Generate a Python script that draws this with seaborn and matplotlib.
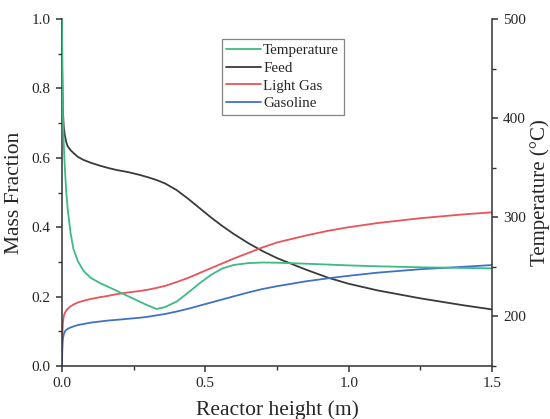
import numpy as np
import pandas as pd
import seaborn as sns
import matplotlib.pyplot as plt
from matplotlib.ticker import MultipleLocator

# values
height = [0, 0.001, 0.003, 0.006, 0.01, 0.015, 0.02, 0.03, 0.04, 0.055, 0.075, 0.1, 0.13,
          0.16, 0.19, 0.23, 0.27, 0.3, 0.33, 0.36, 0.4, 0.44, 0.48, 0.52, 0.56, 0.6,
          0.65, 0.7, 0.75, 0.85, 0.93, 1.0, 1.1, 1.25, 1.4, 1.5]
temperature = [500, 450, 405, 375, 350, 325, 308, 284, 268, 256, 246, 239, 234,
               230, 226, 220.5, 215, 211, 207.5, 209.5, 215, 224, 233.5, 242, 248.5, 252,
               253.8, 254.4, 254.2, 253.2, 252.3, 251.5, 250.6, 249.6, 248.9, 248.5]
feed = [1.0, 0.85, 0.74, 0.69, 0.665, 0.645, 0.633, 0.622, 0.614, 0.603, 0.594, 0.586, 0.578,
        0.571, 0.565, 0.559, 0.551, 0.544, 0.536, 0.526, 0.507, 0.482, 0.455, 0.428, 0.403, 0.38,
        0.354, 0.331, 0.311, 0.278, 0.254, 0.237, 0.218, 0.195, 0.175, 0.163]
light_gas = [0, 0.08, 0.123, 0.143, 0.153, 0.16, 0.165, 0.172, 0.177, 0.183, 0.188, 0.193, 0.198,
             0.202, 0.207, 0.212, 0.216, 0.22, 0.225, 0.231, 0.242, 0.254, 0.268, 0.282, 0.296, 0.31,
             0.326, 0.342, 0.356, 0.376, 0.39, 0.4, 0.412, 0.426, 0.437, 0.443]
gasoline = [0, 0.05, 0.078, 0.091, 0.099, 0.104, 0.107, 0.111, 0.114, 0.118, 0.121, 0.125, 0.128,
            0.131, 0.133, 0.136, 0.139, 0.142, 0.146, 0.15, 0.157, 0.165, 0.174, 0.183, 0.192, 0.201,
            0.212, 0.222, 0.23, 0.244, 0.253, 0.26, 0.269, 0.279, 0.286, 0.291]

sns.set_style("ticks")
plt.rcParams['font.family'] = ['Liberation Serif', 'DejaVu Serif']

fig = plt.figure(figsize=(5.5, 4.19), dpi=100)
ax = fig.add_axes([0.1127, 0.1265, 0.782, 0.828])
ax2 = ax.twinx()

lw = 1.3
sns.lineplot(x=height, y=temperature, ax=ax2, color='#3dba85', lw=lw, label='Temperature', legend=False)
sns.lineplot(x=height, y=feed, ax=ax, color='#3a3a3a', lw=lw, label='Feed', legend=False)
sns.lineplot(x=height, y=light_gas, ax=ax, color='#e8545a', lw=lw, label='Light Gas', legend=False)
sns.lineplot(x=height, y=gasoline, ax=ax, color='#3f72c4', lw=lw, label='Gasoline', legend=False)

ax.set_xlim(0, 1.5)
ax.set_ylim(0, 1.0)
ax2.set_ylim(150, 500)
ax.xaxis.set_major_locator(MultipleLocator(0.5))
ax.xaxis.set_minor_locator(MultipleLocator(0.25))
ax.yaxis.set_major_locator(MultipleLocator(0.2))
ax.yaxis.set_minor_locator(MultipleLocator(0.1))
ax2.yaxis.set_major_locator(MultipleLocator(100))
ax2.yaxis.set_minor_locator(MultipleLocator(50))

for a in (ax, ax2):
    a.spines['top'].set_visible(False)
    for s in a.spines.values():
        s.set_color('#333333')
        s.set_linewidth(1.1)
    a.tick_params(which='major', direction='out', length=4.5, width=1.1, labelsize=11, color='#333333')
    a.tick_params(which='minor', direction='out', length=3, width=1.0, color='#333333')
ax.spines['right'].set_visible(False)
ax2.spines['left'].set_visible(False)
ax2.spines['bottom'].set_visible(False)

ax.set_xlabel('Reactor height (m)', fontsize=15.5, labelpad=7)
ax.set_ylabel('Mass Fraction', fontsize=15.5, labelpad=6)
ax2.set_ylabel('Temperature (°C)', fontsize=15, labelpad=3)

h1, l1 = ax2.get_legend_handles_labels()
h2, l2 = ax.get_legend_handles_labels()
leg = ax.legend(h1 + h2, l1 + l2, loc='upper left', bbox_to_anchor=(0.372, 0.942),
                fontsize=10.8, frameon=True, fancybox=False, edgecolor='#666666',
                handlelength=2.3, handletextpad=0.15, labelspacing=0.28, borderpad=0.3,
                borderaxespad=0)
leg.get_frame().set_linewidth(0.9)

fig.savefig('out.png', dpi=100)
